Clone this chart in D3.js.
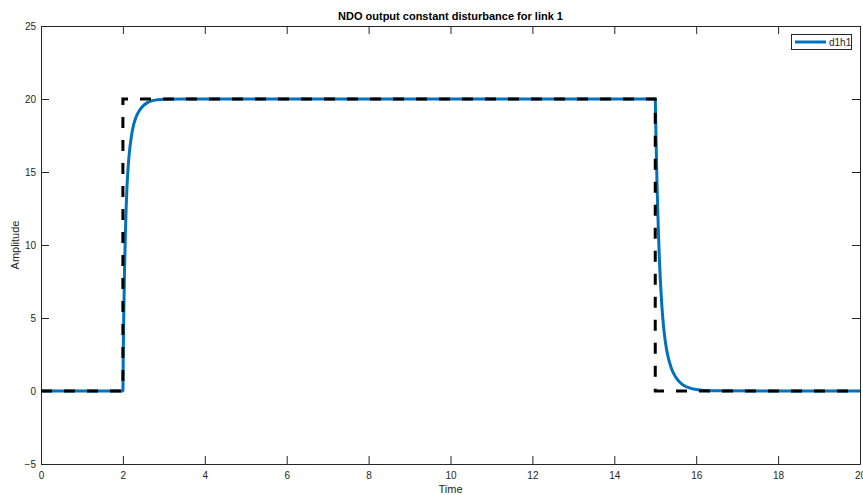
<!DOCTYPE html>
<html>
<head>
<meta charset="utf-8">
<script src="https://cdn.jsdelivr.net/npm/d3@7"></script>
<style>
  html, body { margin: 0; padding: 0; background: #fff; }
  svg { display: block; font-family: "Liberation Sans", Arial, Helvetica, sans-serif; }
</style>
</head>
<body>
<svg id="chart" width="863" height="495"></svg>
<script>
// ---- data ----
const chartTitle = "NDO output constant disturbance for link 1";
const xLabel = "Time";
const yLabel = "Amplitude";
const xTicks = [0, 2, 4, 6, 8, 10, 12, 14, 16, 18, 20];
const yTicks = [-5, 0, 5, 10, 15, 20, 25];
const seriesName = "d1h1";

// NDO estimate (blue solid)
const estTime = [0, 2.0, 2.01, 2.02, 2.04, 2.06, 2.08, 2.1, 2.13, 2.16, 2.2, 2.25, 2.3, 2.35, 2.4, 2.5, 2.6, 2.7, 2.85, 3.0, 3.5,
                 15.0, 15.01, 15.02, 15.04, 15.06, 15.08, 15.1, 15.13, 15.16, 15.2, 15.25, 15.3, 15.4, 15.5, 15.6, 15.7, 15.85, 16.0, 16.2, 16.5, 20];
const estValue = [0, 0, 2.8, 5.0, 8.3, 10.7, 12.6, 14.0, 15.4, 16.4, 17.3, 18.1, 18.6, 18.95, 19.2, 19.55, 19.75, 19.87, 19.95, 19.99, 20,
                  20, 18.6, 17.2, 14.6, 12.5, 10.7, 9.1, 7.3, 5.9, 4.5, 3.3, 2.5, 1.5, 0.95, 0.6, 0.38, 0.2, 0.1, 0.04, 0.01, 0];

// Actual disturbance (black dashed)
const refTime = [0, 2, 2, 15, 15, 20];
const refValue = [0, 0, 20, 20, 0, 0];

// ---- layout ----
const svg = d3.select("#chart");
const mLeft = 41, mRight = 860, mTop = 26, mBottom = 464;
const axisColor = "#262626";

const x = d3.scaleLinear().domain([0, 20]).range([mLeft, mRight]);
const y = d3.scaleLinear().domain([-5, 25]).range([mBottom, mTop]);

const tickLen = 8;

// bottom axis
const gB = svg.append("g").attr("transform", `translate(0,${mBottom})`)
  .call(d3.axisBottom(x).tickValues(xTicks).tickSizeInner(-tickLen).tickSizeOuter(0));
// top axis
const gT = svg.append("g").attr("transform", `translate(0,${mTop})`)
  .call(d3.axisTop(x).tickValues(xTicks).tickSizeInner(-tickLen).tickSizeOuter(0).tickFormat(""));
// left axis
const gL = svg.append("g").attr("transform", `translate(${mLeft},0)`)
  .call(d3.axisLeft(y).tickValues(yTicks).tickSizeInner(-tickLen).tickSizeOuter(0));
// right axis
const gR = svg.append("g").attr("transform", `translate(${mRight},0)`)
  .call(d3.axisRight(y).tickValues(yTicks).tickSizeInner(-tickLen).tickSizeOuter(0).tickFormat(""));

[gB, gT, gL, gR].forEach(g => {
  g.select(".domain").attr("stroke", axisColor).attr("stroke-width", 1);
  g.selectAll(".tick line").attr("stroke", axisColor).attr("stroke-width", 1);
  g.selectAll(".tick text").attr("fill", axisColor).attr("font-size", 10)
    .attr("font-family", "'Liberation Sans', Arial, sans-serif");
});
gB.selectAll(".tick text").attr("dy", "0.71em").attr("y", 8);
gL.selectAll(".tick text").attr("x", -5);

// lines
const estData = estTime.map((t, i) => [t, estValue[i]]);
const refData = refTime.map((t, i) => [t, refValue[i]]);

const plot = svg.append("g");
plot.append("path")
  .attr("d", d3.line().x(d => x(d[0])).y(d => y(d[1])).curve(d3.curveMonotoneX)(estData))
  .attr("fill", "none")
  .attr("stroke", "#0072BD")
  .attr("stroke-width", 3)
  .attr("stroke-linejoin", "round");

plot.append("path")
  .attr("d", d3.line().x(d => x(d[0])).y(d => y(d[1]))(refData))
  .attr("fill", "none")
  .attr("stroke", "#000")
  .attr("stroke-width", 3)
  .attr("stroke-dasharray", "11,12");

// title
svg.append("text")
  .attr("x", (mLeft + mRight) / 2).attr("y", 20)
  .attr("text-anchor", "middle")
  .attr("font-size", 11).attr("font-weight", "bold")
  .attr("fill", "#000")
  .text(chartTitle);

// axis labels
svg.append("text")
  .attr("x", (mLeft + mRight) / 2).attr("y", 493)
  .attr("text-anchor", "middle")
  .attr("font-size", 11).attr("fill", axisColor)
  .text(xLabel);

svg.append("text")
  .attr("transform", `translate(19,${(mTop + mBottom) / 2}) rotate(-90)`)
  .attr("text-anchor", "middle")
  .attr("font-size", 11).attr("fill", axisColor)
  .text(yLabel);

// legend
const lg = svg.append("g");
lg.append("rect")
  .attr("x", 791.5).attr("y", 34.5).attr("width", 60).attr("height", 15)
  .attr("fill", "#fff").attr("stroke", axisColor).attr("stroke-width", 1);
lg.append("line")
  .attr("x1", 795).attr("x2", 826).attr("y1", 42).attr("y2", 42)
  .attr("stroke", "#0072BD").attr("stroke-width", 3);
lg.append("text")
  .attr("x", 829).attr("y", 45.5)
  .attr("font-size", 10).attr("fill", axisColor)
  .text(seriesName);
</script>
</body>
</html>
